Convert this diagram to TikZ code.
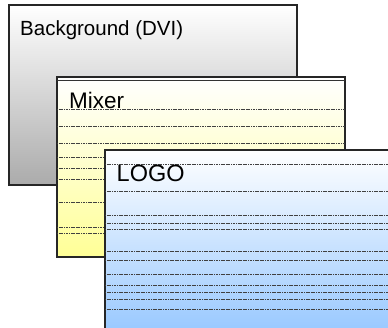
\documentclass[tikz,border=0pt]{standalone}
\usepackage{fontspec}
\setmainfont{Liberation Sans}
\begin{document}
\begin{tikzpicture}[x=1pt,y=-1pt,
  layer/.style={draw=black!85, line width=1.4pt, anchor=north west, inner sep=0pt, outer sep=0pt},
  lbl/.style={anchor=base west, inner sep=0pt, text=black},
  rule/.style={draw=black!75, line width=0.75pt, dash pattern=on 1.2pt off 0.5pt},
  thinrule/.style={draw=black!80, line width=0.5pt}]
\clip (0,0) rectangle (388,328);
\fill[white] (0,0) rectangle (388,328);
% Background
\node[layer, minimum width=288pt, minimum height=180pt, top color=white, bottom color=black!33] (bg) at (9,5) {};
\node[lbl, font=\fontsize{20.5}{24}\selectfont] (bgl) at (20,36) {Background (DVI)};
% Mixer
\node[layer, minimum width=288pt, minimum height=180pt, top color=white, bottom color={rgb,255:red,255;green,255;blue,150}] (mix) at (57,77) {};
\foreach \yy in {109.3,126.5,143.3,157.3,168.3,179.3,202.3,227.5,233.3}
  \draw[rule] ([yshift=-\yy pt+77pt]mix.north west) -- ([yshift=-\yy pt+77pt]mix.north east);
\draw[thinrule] ([yshift=-3.4pt]mix.north west) -- ([yshift=-3.4pt]mix.north east);
\node[lbl, font=\fontsize{22.5}{26}\selectfont] (mixl) at (69,109) {Mixer};
% Logo
\node[layer, minimum width=300pt, minimum height=190pt, top color=white, bottom color={rgb,255:red,148;green,198;blue,255}] (logo) at (105,150) {};
\foreach \yy in {164.3,191.5,215.3,223.3,229.3,251,260,274.3,285.3,292.3,299.3,309.3}
  \draw[rule] ([yshift=-\yy pt+150pt]logo.north west) -- ([yshift=-\yy pt+150pt]logo.north east);
\node[lbl, font=\fontsize{23.5}{28}\selectfont] (logol) at (116.5,181.3) {LOGO};
\end{tikzpicture}
\end{document}
